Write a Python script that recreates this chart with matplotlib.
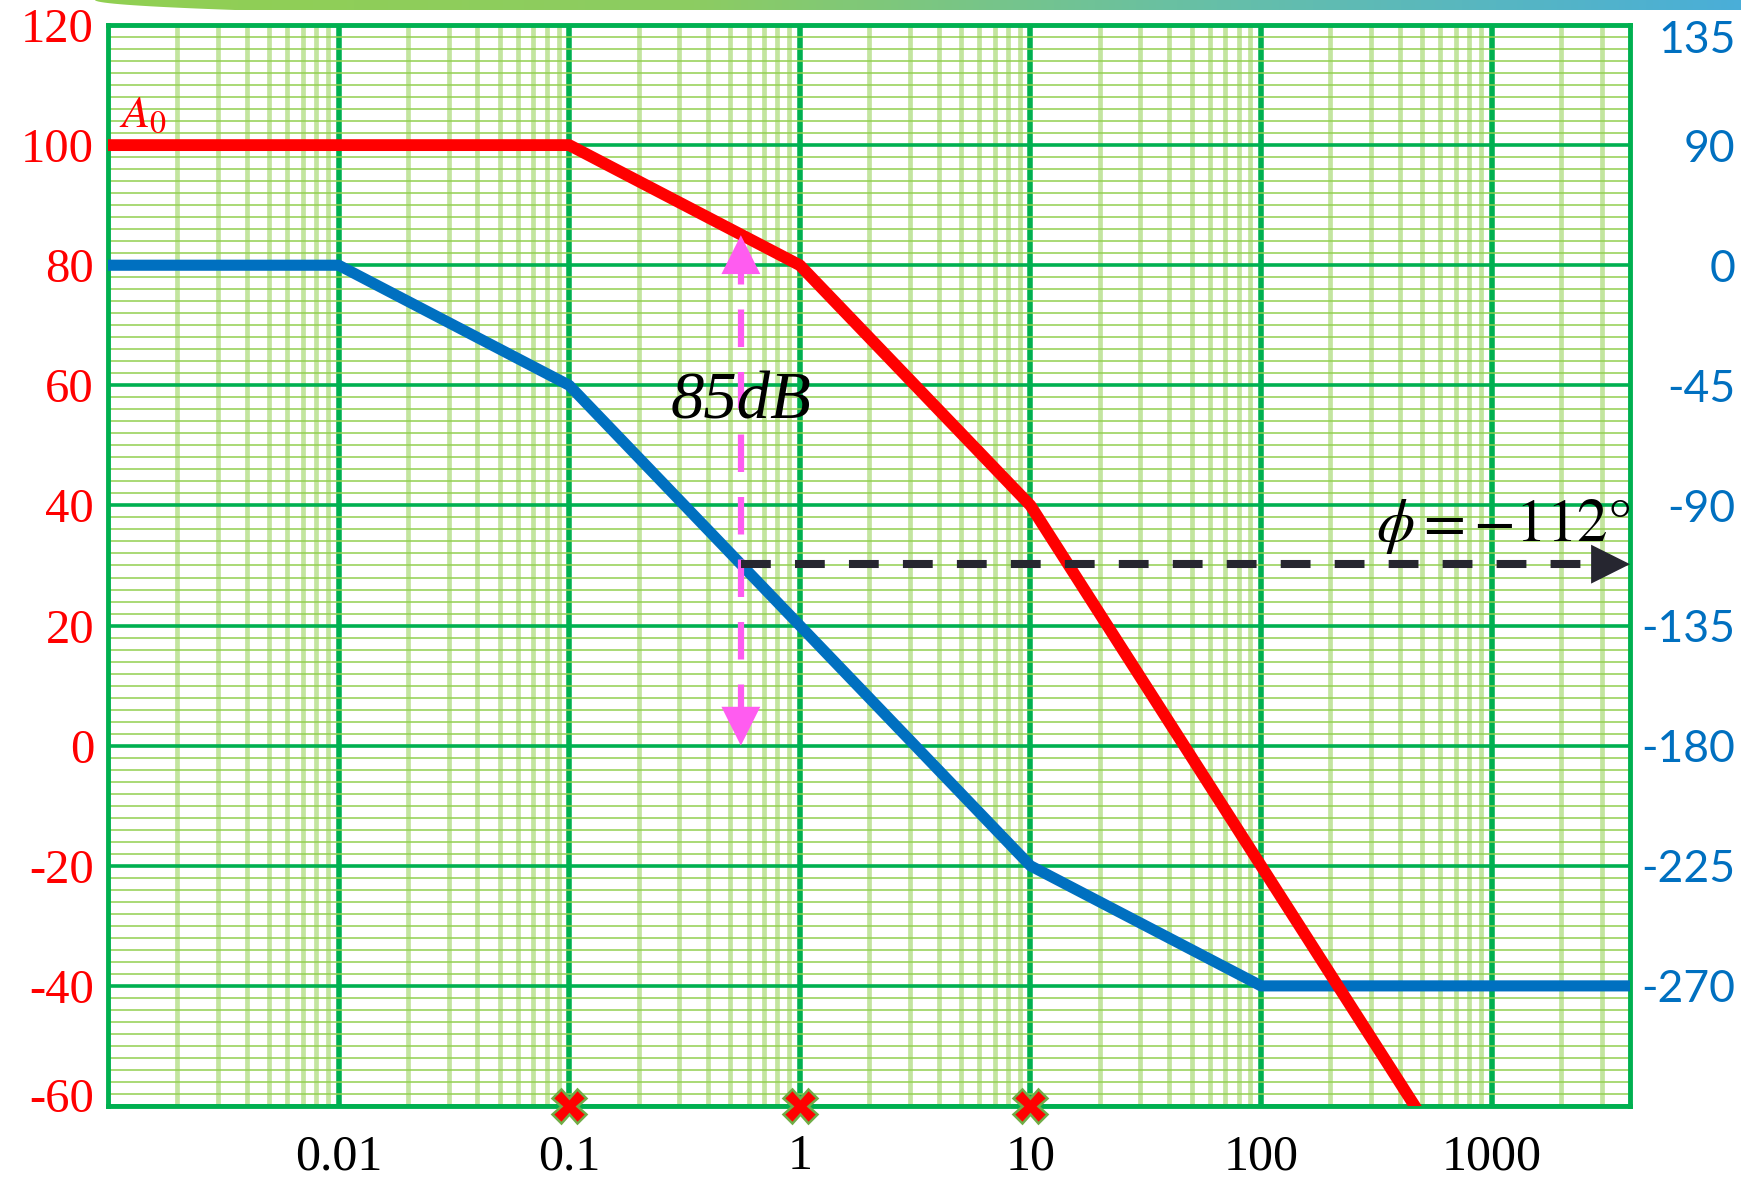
import numpy as np
import matplotlib
matplotlib.use("Agg")
import matplotlib.pyplot as plt
from matplotlib.ticker import LogLocator, MultipleLocator, NullFormatter
from matplotlib.colors import LinearSegmentedColormap
from matplotlib.patches import Polygon
from matplotlib.transforms import ScaledTranslation

plt.rcParams['mathtext.fontset'] = 'stix'

# --- data ---
gain_freq = [0.001, 0.1, 1, 10, 100, 1000]
gain_db = [100, 100, 80, 40, -20, -80]

phase_freq = [0.001, 0.01, 0.1, 1, 10, 100, 10**3.6]
phase_deg = [0, 0, -45, -135, -225, -270, -270]

pole_freqs = [0.1, 1, 10]

freq_ticks = [0.01, 0.1, 1, 10, 100, 1000]
freq_labels = ['0.01', '0.1', '1', '10', '100', '1000']
db_ticks = [120, 100, 80, 60, 40, 20, 0, -20, -40, -60]
db_labels = ['120', '100', '80', '60', '40', '20', '0', '-20', '-40', '-60']
# right axis labels as printed on the chart
phase_ticks = [90, 45, 0, -45, -90, -135, -180, -225, -270]
phase_labels = ['135', '90', '0', '-45', '-90', '-135', '-180', '-225', '-270']

cross_freq = 0.555     # where phase = -112 deg
cross_phase = -112
cross_gain = 85

RED = '#ff0000'
BLUE = '#0070c0'
DARK_GREEN = '#00b050'
LIGHT_GREEN = '#92d050'
PINK = '#ff5cf0'
BLACK = '#262630'
XMAX = 10**3.6


def deg_to_db(d):
    return 80 + np.asarray(d) / 2.25


def db_to_deg(db):
    return (np.asarray(db) - 80) * 2.25


fig = plt.figure(figsize=(17.41, 11.77), dpi=100)
ax = fig.add_axes([108 / 1741, 1 - 1106 / 1177, 1522 / 1741, 1081 / 1177])

ax.set_xscale('log')
ax.set_xlim(0.001, XMAX)
ax.set_ylim(-60, 120)

# grid
ax.set_xticks(freq_ticks, labels=freq_labels)
ax.xaxis.set_minor_locator(LogLocator(base=10, subs=np.arange(2, 10), numticks=30))
ax.xaxis.set_minor_formatter(NullFormatter())
ax.set_yticks(db_ticks, labels=db_labels)
ax.yaxis.set_minor_locator(MultipleLocator(2))
ax.grid(which='minor', axis='y', color=LIGHT_GREEN, lw=1.1, zorder=0)
ax.grid(which='minor', axis='x', color=LIGHT_GREEN, lw=3.4, alpha=0.55, zorder=0)
ax.grid(which='major', axis='y', color=DARK_GREEN, lw=2.6, zorder=1)
ax.grid(which='major', axis='x', color=DARK_GREEN, lw=4.0, zorder=1)
ax.set_axisbelow(True)
for s in ax.spines.values():
    s.set_color(DARK_GREEN)
    s.set_linewidth(3.5)

ax.tick_params(which='both', length=0)
ax.tick_params(axis='x', pad=20, labelsize=36, labelcolor='black')
ax.tick_params(axis='y', pad=10, labelsize=35, labelcolor=RED)
for lbl in ax.get_xticklabels() + ax.get_yticklabels():
    lbl.set_fontfamily('Liberation Serif')

sec = ax.secondary_yaxis('right', functions=(db_to_deg, deg_to_db))
sec.set_yticks(phase_ticks, labels=phase_labels)
sec.tick_params(length=0, pad=76, labelsize=32, labelcolor=BLUE)
sec.spines['right'].set_visible(False)
for lbl in sec.get_yticklabels():
    lbl.set_fontfamily('Lato')
    lbl.set_ha('right')

# end labels sit slightly inside the frame
lo = ax.get_yticklabels()[-1]
lo.set_transform(lo.get_transform() + ScaledTranslation(0, 8 / 72, fig.dpi_scale_trans))
hi = sec.get_yticklabels()[0]
hi.set_transform(hi.get_transform() + ScaledTranslation(0, -8 / 72, fig.dpi_scale_trans))

# curves
ax.plot(phase_freq, deg_to_db(phase_deg), color=BLUE, lw=8, zorder=3,
        solid_capstyle='butt')
ax.plot(gain_freq, gain_db, color=RED, lw=8.5, zorder=4, solid_capstyle='butt')

# pole markers on the frequency axis
ax.plot(pole_freqs, [-60] * len(pole_freqs), ls='none', marker='X', ms=24,
        mfc=RED, mec='#70ad47', mew=1.8, clip_on=False, zorder=6)

# pink arrow between 0 dB and the gain curve
ax.plot([cross_freq, cross_freq], [4, 80], color=PINK, lw=4.5, zorder=5,
        dashes=(6, 4))
pink_head = dict(arrowstyle='-|>,head_length=1.0,head_width=0.5', color=PINK,
                 lw=0, mutation_scale=28, shrinkA=0, shrinkB=0)
ax.annotate('', xy=(cross_freq, cross_gain), xytext=(cross_freq, 75),
            arrowprops=pink_head, zorder=5)
ax.annotate('', xy=(cross_freq, 0), xytext=(cross_freq, 10),
            arrowprops=pink_head, zorder=5)

# phase arrow (black)
y_phase = float(deg_to_db(cross_phase))
ax.plot([cross_freq, 10**3.5], [y_phase, y_phase], color=BLACK, lw=5.8,
        dashes=(3.7, 3.0), zorder=5)
ax.annotate('', xy=(XMAX, y_phase), xytext=(10**3.3, y_phase),
            arrowprops=dict(arrowstyle='-|>,head_length=1.0,head_width=0.5',
                            color=BLACK, lw=0, mutation_scale=28,
                            shrinkA=0, shrinkB=0), zorder=5)

# texts
ax.text(0.00112, 103, r'$A_0$', color=RED, fontsize=33, va='baseline', zorder=6)
ax.text(cross_freq, 54.5, '85dB', fontsize=48, fontstyle='italic',
        family='Liberation Serif', ha='center', va='baseline', zorder=6)
ax.text(XMAX, 34, r'$\phi = -112°$', fontsize=44, ha='right',
        va='baseline', zorder=6)

# decorative gradient band at the top
bax = fig.add_axes([0, 1 - 10 / 1177, 1, 10 / 1177])
bax.set_axis_off()
bax.set_xlim(0, 1741)
bax.set_ylim(0, 1)
cmap = LinearSegmentedColormap.from_list(
    'band', [(0, '#92d050'), (0.4, '#8ccc62'), (0.7, '#66bfa8'), (1, '#4aaed8')])
grad = np.linspace(0, 1, 512).reshape(1, -1)
im = bax.imshow(grad, cmap=cmap, extent=(0, 1741, 0, 1), aspect='auto')
yy = np.linspace(1, 0, 20)
curve = np.column_stack([95 + 140 * (1 - yy) ** 2, yy])
verts = np.vstack([curve, [[1741, 0], [1741, 1]]])
clip = Polygon(verts, closed=True, transform=bax.transData, fc='none', ec='none')
bax.add_patch(clip)
im.set_clip_path(clip)

fig.savefig('out.png', dpi=100)
